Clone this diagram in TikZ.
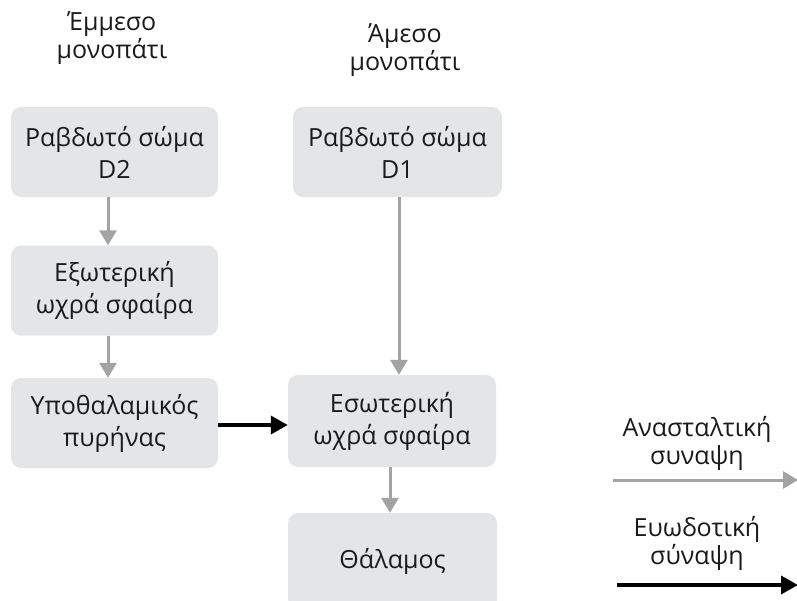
\documentclass[tikz,border=0pt]{standalone}
\usepackage{fontspec}
\setmainfont{Open Sans}
\usetikzlibrary{arrows.meta}
\definecolor{boxfill}{HTML}{E3E5E6}
\definecolor{inhib}{HTML}{A3A3A3}
\definecolor{txt}{HTML}{1A1A1A}
\begin{document}
\begin{tikzpicture}[x=1pt,y=-1pt,
  boxnode/.style={fill=boxfill, rounded corners=10pt, minimum width=207pt, minimum height=90pt, inner sep=0pt, align=center, text=txt, font=\fontsize{25}{32}\selectfont},
  hdr/.style={align=center, text=txt, font=\fontsize{25}{28}\selectfont},
  inharrow/.style={draw=inhib, line width=3pt, -{Triangle[length=15pt,width=17pt]}},
  excarrow/.style={draw=black, line width=3.6pt, -{Triangle[length=17pt,width=18pt]}}]
\useasboundingbox (0,0) rectangle (797,600);
\node[hdr] (h1) at (112,38) {Έμμεσο\\μονοπάτι};
\node[hdr] (h2) at (405,50) {Άμεσο\\μονοπάτι};
\node[boxnode] (d2) at (114.5,152) {Ραβδωτό σώμα\\D2};
\node[boxnode] (gpe) at (114.5,290.5) {Εξωτερική\\ωχρά σφαίρα};
\node[boxnode] (stn) at (114.5,423) {Υποθαλαμικός\\πυρήνας};
\node[boxnode, minimum width=209pt] (d1) at (397.5,152) {Ραβδωτό σώμα\\D1};
\node[boxnode, minimum width=208pt, minimum height=92pt] (gpi) at (392,421) {Εσωτερική\\ωχρά σφαίρα};
\node[boxnode, minimum width=209pt, minimum height=96pt] (th) at (392.5,561) {Θάλαμος};
\draw[inharrow] ([xshift=-6.5pt]d2.south) -- ([xshift=-6.5pt]gpe.north);
\draw[inharrow] ([xshift=-6.5pt]gpe.south) -- ([xshift=-6.5pt]stn.north);
\draw[inharrow] ([xshift=1.5pt]d1.south) -- ([xshift=7pt]gpi.north);
\draw[inharrow] ([xshift=-2pt]gpi.south) -- ([xshift=-2.5pt]th.north);
\draw[excarrow] ([yshift=-2pt]stn.east) -- ([yshift=-4pt]gpi.west);
\node[hdr] (linh) at (697,443) {Ανασταλτική\\συναψη};
\node[hdr] (lexc) at (697,543) {Ευωδοτική\\σύναψη};
\coordinate (ia) at (613,480);
\coordinate (ib) at (798,480);
\coordinate (ea) at (617,585);
\coordinate (eb) at (798,585);
\draw[inharrow] (ia) -- (ib);
\draw[excarrow] (ea) -- (eb);
\end{tikzpicture}
\end{document}
